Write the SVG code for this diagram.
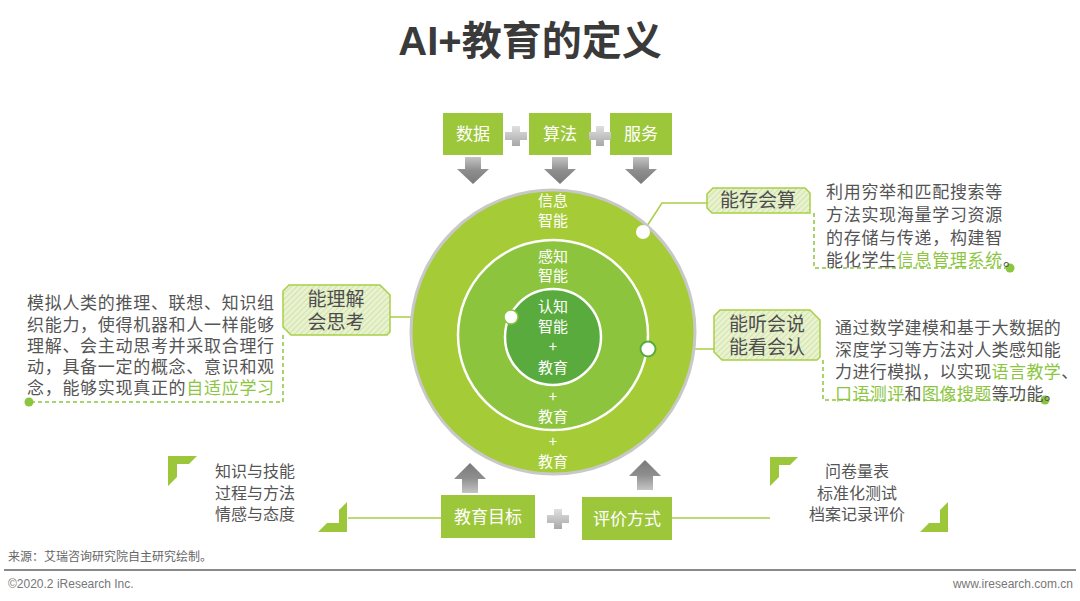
<svg xmlns="http://www.w3.org/2000/svg" width="1080" height="601" viewBox="0 0 1080 601">
<style>
.cn{font-family:"Noto Sans CJK SC","Liberation Sans",sans-serif}
.title{font-family:"Liberation Sans","Noto Sans CJK SC",sans-serif;font-weight:bold;font-size:40px;fill:#3a3a3a}
.boxt{font-size:17px;fill:#fff}
.ct{font-size:15px;fill:#fff;text-anchor:middle}
.lab{font-size:19px;fill:#4d4d4d;text-anchor:middle}
.body{font-size:17px;fill:#555;letter-spacing:0.7px}
.body2{font-size:17px;fill:#555;letter-spacing:0.4px}
.hl{fill:#8cc63f}
.small{font-size:16px;fill:#555}
.gbox{fill:#9dc73a}
.conn{stroke:#a8cf45;stroke-width:1.5;fill:none}
.dash{stroke:#8cc63f;stroke-width:1.5;fill:none;stroke-dasharray:4 3}
.labbox{fill:url(#hatch);stroke:#a8cf45;stroke-width:1.5}
.arrow{fill:url(#garr)}
.arrowu{fill:url(#garru)}
.plus{fill:url(#gplus)}
.brk{fill:#9dc73a}
.foot{font-family:"Liberation Sans",sans-serif;font-size:12px;fill:#777}
</style>
<defs>
<pattern id="hatch" width="4" height="4" patternUnits="userSpaceOnUse" patternTransform="rotate(45)">
<rect width="4" height="4" fill="#e8f1d0"/>
<line x1="0" y1="0" x2="0" y2="4" stroke="#c6dd93" stroke-width="1.3"/>
</pattern>
<linearGradient id="garr" x1="0" y1="0" x2="0" y2="1">
<stop offset="0" stop-color="#c4c4c4"/>
<stop offset="0.5" stop-color="#8e8e8e"/>
<stop offset="1" stop-color="#7a7a7a"/>
</linearGradient>
<linearGradient id="garru" x1="0" y1="1" x2="0" y2="0">
<stop offset="0" stop-color="#c4c4c4"/>
<stop offset="0.5" stop-color="#8e8e8e"/>
<stop offset="1" stop-color="#7a7a7a"/>
</linearGradient>
<linearGradient id="gplus" x1="0" y1="0" x2="0" y2="1">
<stop offset="0" stop-color="#e0e0e0"/>
<stop offset="1" stop-color="#a8a8a8"/>
</linearGradient>
</defs>

<rect width="1080" height="601" fill="#fff"/>

<text class="title" x="530" y="55" text-anchor="middle">AI+<tspan class="cn">教育的定义</tspan></text>

<!-- connectors -->
<g id="connectors">
<polyline class="conn" points="643,232 662,203 707,203"/>
<line class="conn" x1="390" y1="317" x2="511" y2="317"/>
<line class="conn" x1="648" y1="349" x2="714" y2="349"/>
<polyline class="dash" points="283,335 283,402 29,402"/>
<polyline class="dash" points="814,213 814,268 1010,268"/>
<polyline class="dash" points="823,360 823,400 1045,400"/>
<line class="conn" x1="348" y1="518" x2="441" y2="518"/>
<line class="conn" x1="672" y1="518" x2="770" y2="518"/>
<circle cx="29" cy="402" r="4.5" fill="#8cc63f"/>
<circle cx="1010" cy="268" r="4.5" fill="#8cc63f"/>
<circle cx="1045" cy="400" r="4.5" fill="#8cc63f"/>
</g>

<!-- circles -->
<g id="circle-outer">
<circle cx="553" cy="332" r="142" fill="#a5cc36" stroke="#c8c8c8" stroke-width="3"/>
<text class="ct cn" x="553" y="206">信息</text>
<text class="ct cn" x="553" y="226">智能</text>
<text class="ct cn" x="553" y="447">+</text>
<text class="ct cn" x="553" y="467">教育</text>
</g>
<g id="circle-middle">
<circle cx="553" cy="335" r="95" fill="#8cc43e" stroke="#fff" stroke-width="2.5"/>
<text class="ct cn" x="553" y="262">感知</text>
<text class="ct cn" x="553" y="281">智能</text>
<text class="ct cn" x="553" y="402">+</text>
<text class="ct cn" x="553" y="422">教育</text>
</g>
<g id="circle-inner">
<circle cx="553" cy="337" r="48" fill="#5aab3e" stroke="#fff" stroke-width="2.5"/>
<text class="ct cn" x="553" y="312">认知</text>
<text class="ct cn" x="553" y="332">智能</text>
<text class="ct cn" x="553" y="352">+</text>
<text class="ct cn" x="553" y="373">教育</text>
</g>
<g id="dots">
<circle cx="643" cy="232" r="7" fill="#fff"/>
<circle cx="511" cy="317" r="7" fill="#fff" stroke="#8cc43e" stroke-width="1.5"/>
<circle cx="648" cy="349" r="7.5" fill="#fff" stroke="#5aab3e" stroke-width="2"/>
</g>

<!-- top boxes -->
<g id="box-data">
<rect class="gbox" x="443" y="113" width="60" height="42"/>
<text class="boxt cn" x="473" y="140" text-anchor="middle">数据</text>
</g>
<g id="box-algo">
<rect class="gbox" x="529" y="113" width="62" height="42"/>
<text class="boxt cn" x="560" y="140" text-anchor="middle">算法</text>
</g>
<g id="box-service">
<rect class="gbox" x="610" y="113" width="62" height="42"/>
<text class="boxt cn" x="641" y="140" text-anchor="middle">服务</text>
</g>
<g id="plus-top">
<path class="plus" d="M512,126 h8 v6 h7 v8 h-7 v6 h-8 v-6 h-7 v-8 h7 z"/>
<path class="plus" d="M596,126 h8 v6 h7 v8 h-7 v6 h-8 v-6 h-7 v-8 h7 z"/>
</g>
<g id="arrows-down">
<path class="arrow" d="M465,157 h16 v12 h8 l-16,15 l-16,-15 h8 z"/>
<path class="arrow" d="M552,157 h16 v12 h8 l-16,15 l-16,-15 h8 z"/>
<path class="arrow" d="M633,157 h16 v12 h8 l-16,15 l-16,-15 h8 z"/>
</g>

<!-- labels -->
<g id="label-think">
<path class="labbox" d="M289,285 L380,285 L390,295 L390,332 L387,335 L291,335 L283,327 L283,291 Z"/>
<text class="lab cn" x="336" y="306">能理解</text>
<text class="lab cn" x="336" y="329">会思考</text>
</g>
<g id="text-think">
<text class="body cn" x="27" y="309">模拟人类的推理、联想、知识组</text>
<text class="body cn" x="27" y="331">织能力，使得机器和人一样能够</text>
<text class="body cn" x="27" y="352">理解、会主动思考并采取合理行</text>
<text class="body cn" x="27" y="373">动，具备一定的概念、意识和观</text>
<text class="body cn" x="27" y="394">念，能够实现真正的<tspan class="hl">自适应学习</tspan></text>
</g>

<g id="label-store">
<path class="labbox" d="M713,188 L805,188 L810,193 L810,213 L712,213 L707,208 L707,194 Z"/>
<text class="lab cn" x="758" y="207">能存会算</text>
</g>
<g id="text-store">
<text class="body cn" x="826" y="198">利用穷举和匹配搜索等</text>
<text class="body cn" x="826" y="221">方法实现海量学习资源</text>
<text class="body cn" x="826" y="244">的存储与传递，构建智</text>
<text class="body cn" x="826" y="266">能化学生<tspan class="hl">信息管理系统</tspan>。</text>
</g>

<g id="label-perceive">
<path class="labbox" d="M720,310 L810,310 L820,320 L820,357 L817,360 L722,360 L714,352 L714,316 Z"/>
<text class="lab cn" x="767" y="331">能听会说</text>
<text class="lab cn" x="767" y="354">能看会认</text>
</g>
<g id="text-perceive">
<text class="body2 cn" x="835" y="334">通过数学建模和基于大数据的</text>
<text class="body2 cn" x="835" y="356">深度学习等方法对人类感知能</text>
<text class="body2 cn" x="835" y="378">力进行模拟，以实现<tspan class="hl">语言教学</tspan>、</text>
<text class="body2 cn" x="835" y="400"><tspan class="hl">口语测评</tspan>和<tspan class="hl">图像搜题</tspan>等功能。</text>
</g>

<!-- bottom -->
<g id="arrows-up">
<path class="arrowu" d="M462,493 h16 v-14 h8 l-16,-16 l-16,16 h8 z"/>
<path class="arrowu" d="M637,490 h16 v-14 h8 l-16,-16 l-16,16 h8 z"/>
</g>
<g id="box-goal">
<rect class="gbox" x="441" y="495" width="94" height="43"/>
<text class="boxt cn" x="488" y="523" text-anchor="middle">教育目标</text>
</g>
<g id="box-eval">
<rect class="gbox" x="582" y="497" width="90" height="43"/>
<text class="boxt cn" x="627" y="525" text-anchor="middle">评价方式</text>
</g>
<path class="plus" d="M554,509 h8 v6 h7 v8 h-7 v6 h-8 v-6 h-7 v-8 h7 z"/>

<g id="goal-list">
<path class="brk" d="M168,456 L197,456 L189,464 L177,464 L177,477 L168,486 Z"/>
<path class="brk" d="M347,502 L347,532 L318,532 L327,523 L339,523 L339,510 Z"/>
<text class="small cn" x="215" y="477">知识与技能</text>
<text class="small cn" x="215" y="499">过程与方法</text>
<text class="small cn" x="215" y="520">情感与态度</text>
</g>
<g id="eval-list">
<path class="brk" d="M770,457 L798,457 L790,465 L779,465 L779,477 L770,486 Z"/>
<path class="brk" d="M948,502 L948,532 L920,532 L929,523 L940,523 L940,510 Z"/>
<text class="small cn" x="857" y="477" text-anchor="middle">问卷量表</text>
<text class="small cn" x="857" y="499" text-anchor="middle">标准化测试</text>
<text class="small cn" x="857" y="520" text-anchor="middle">档案记录评价</text>
</g>

<!-- footer -->
<text class="cn" x="8" y="561" font-size="12" fill="#666">来源：艾瑞咨询研究院自主研究绘制。</text>
<line x1="4" y1="570" x2="1076" y2="570" stroke="#8a8a8a" stroke-width="2"/>
<text class="foot" x="8" y="588">©2020.2 iResearch Inc.</text>
<text class="foot" x="1073" y="588" text-anchor="end">www.iresearch.com.cn</text>
</svg>
